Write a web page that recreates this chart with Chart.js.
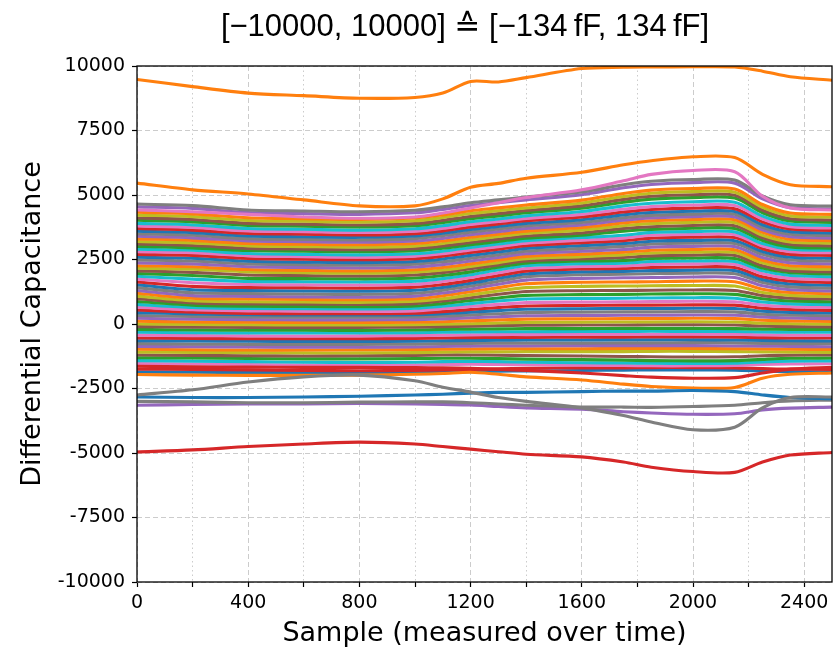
<!DOCTYPE html>
<html>
<head>
<meta charset="utf-8">
<script src="https://cdn.jsdelivr.net/npm/chart.js"></script>
<style>
    html, body {margin: 0; padding: 0; background: #fff;}
    #wrap {width: 839px; height: 650px;}
</style>
</head>
<body>
<div id="wrap"><canvas id="myChart" width="839" height="650"></canvas></div>
<script>
const samples = [0, 200, 400, 600, 800, 1000, 1100, 1200, 1300, 1400, 1600, 1750, 1850, 2000, 2150, 2250, 2350, 2500];
const xTicks = [0, 200, 400, 600, 800, 1000, 1200, 1400, 1600, 1800, 2000, 2200, 2400];
const yTicks = [-10000, -7500, -5000, -2500, 0, 2500, 5000, 7500, 10000];

// channels that stand apart from the bundle
const topOrange = [9480, 9200, 8950, 8850, 8750, 8780, 8950, 9400, 9380, 9550, 9900, 9950, 9960, 9970, 9960, 9800, 9580, 9450];
const secondOrange = [5460, 5200, 5040, 4810, 4580, 4580, 4850, 5300, 5450, 5650, 5880, 6170, 6330, 6480, 6450, 5800, 5400, 5320];
const pinkPeak = [4420, 4350, 4250, 4150, 4100, 4150, 4300, 4500, 4700, 4900, 5200, 5550, 5800, 5950, 5900, 4950, 4500, 4420];
const bottomRed = [-4960, -4880, -4750, -4650, -4580, -4650, -4750, -4850, -4950, -5050, -5150, -5350, -5550, -5720, -5750, -5350, -5080, -4980];
const driftGray = [-2750, -2550, -2250, -2050, -1980, -2200, -2450, -2640, -2850, -3000, -3250, -3550, -3800, -4100, -4000, -3250, -2850, -2830];
const flatGray = [-3000, -3020, -3050, -3050, -3030, -3020, -3020, -3050, -3100, -3150, -3220, -3220, -3230, -3200, -3150, -3050, -2980, -2950];
const lowBlue = [-2830, -2850, -2850, -2830, -2800, -2750, -2720, -2680, -2650, -2650, -2620, -2600, -2600, -2580, -2620, -2750, -2850, -2900];
const lowPurple = [-3150, -3120, -3100, -3100, -3080, -3100, -3120, -3140, -3200, -3250, -3300, -3400, -3450, -3500, -3480, -3330, -3260, -3220];
const redDip = [-1640, -1660, -1670, -1680, -1680, -1690, -1700, -1720, -1760, -1800, -1900, -2000, -2060, -2100, -2080, -1900, -1750, -1680];
const orangeDip = [-1960, -1980, -1990, -1990, -1980, -1950, -1920, -1870, -1950, -2050, -2170, -2330, -2420, -2480, -2460, -2100, -1950, -1900];

// the dense bundle, top to bottom
const upperBand = [
    [4650, 4590, 4420, 4380, 4350, 4410, 4540, 4700, 4810, 4920, 5120, 5400, 5530, 5600, 5580, 4960, 4620, 4570],
    [4540, 4480, 4320, 4280, 4250, 4310, 4440, 4590, 4700, 4810, 5010, 5280, 5410, 5480, 5460, 4850, 4510, 4460],
    [4330, 4270, 4120, 4080, 4050, 4110, 4230, 4390, 4500, 4610, 4800, 5060, 5190, 5250, 5230, 4630, 4300, 4250],
    [4220, 4160, 4010, 3980, 3950, 4000, 4130, 4280, 4390, 4500, 4690, 4940, 5070, 5130, 5110, 4520, 4190, 4140],
    [4110, 4050, 3900, 3870, 3840, 3890, 4020, 4170, 4280, 4400, 4580, 4830, 4950, 5010, 4990, 4410, 4080, 4030],
    [4020, 3960, 3820, 3790, 3760, 3810, 3930, 4080, 4190, 4310, 4490, 4720, 4840, 4900, 4880, 4310, 3990, 3940],
    [3900, 3840, 3700, 3670, 3640, 3690, 3810, 3960, 4070, 4190, 4360, 4580, 4680, 4740, 4720, 4180, 3870, 3820],
    [3800, 3740, 3610, 3580, 3550, 3600, 3710, 3860, 3970, 4090, 4250, 4450, 4550, 4610, 4590, 4070, 3770, 3720],
    [3700, 3640, 3510, 3480, 3450, 3500, 3610, 3760, 3880, 4000, 4150, 4340, 4440, 4490, 4470, 3960, 3680, 3630],
    [3600, 3540, 3410, 3380, 3360, 3410, 3520, 3660, 3780, 3900, 4040, 4230, 4320, 4370, 4360, 3850, 3580, 3530],
    [3500, 3440, 3310, 3280, 3260, 3310, 3420, 3560, 3680, 3800, 3940, 4120, 4210, 4260, 4250, 3750, 3480, 3430],
    [3400, 3340, 3220, 3190, 3170, 3220, 3320, 3460, 3580, 3700, 3840, 4020, 4110, 4160, 4150, 3650, 3380, 3330],
    [3300, 3240, 3120, 3090, 3070, 3120, 3220, 3360, 3480, 3600, 3740, 3920, 4000, 4050, 4040, 3550, 3280, 3230],
    [3200, 3140, 3030, 3000, 2980, 3020, 3120, 3260, 3390, 3510, 3640, 3810, 3890, 3940, 3930, 3440, 3180, 3130],
    [3100, 3040, 2930, 2900, 2880, 2920, 3020, 3160, 3290, 3410, 3530, 3700, 3770, 3820, 3810, 3340, 3080, 3030],
    [3010, 2950, 2850, 2820, 2800, 2840, 2940, 3070, 3200, 3330, 3440, 3600, 3660, 3710, 3700, 3240, 2990, 2940]
];
const middleBand = [
    [2900, 2860, 2730, 2700, 2680, 2720, 2820, 2970, 3100, 3230, 3350, 3440, 3550, 3580, 3570, 3120, 2900, 2860],
    [2800, 2760, 2640, 2610, 2590, 2630, 2720, 2870, 3000, 3130, 3250, 3330, 3440, 3470, 3460, 3020, 2800, 2760],
    [2700, 2660, 2540, 2510, 2490, 2530, 2630, 2770, 2900, 3030, 3150, 3230, 3330, 3360, 3350, 2920, 2700, 2660],
    [2590, 2550, 2430, 2400, 2380, 2420, 2520, 2660, 2790, 2930, 3040, 3120, 3210, 3240, 3230, 2810, 2590, 2550],
    [2480, 2440, 2330, 2300, 2280, 2320, 2410, 2550, 2680, 2820, 2930, 3010, 3100, 3130, 3120, 2700, 2480, 2440],
    [2370, 2330, 2220, 2190, 2170, 2210, 2300, 2440, 2580, 2720, 2820, 2890, 2980, 3010, 3000, 2580, 2370, 2330],
    [2260, 2220, 2110, 2080, 2060, 2100, 2190, 2330, 2480, 2620, 2710, 2780, 2860, 2890, 2880, 2470, 2260, 2220],
    [2160, 2120, 2020, 1990, 1970, 2010, 2090, 2230, 2380, 2530, 2610, 2680, 2750, 2780, 2770, 2370, 2160, 2120],
    [2060, 2000, 1900, 1880, 1860, 1900, 1990, 2140, 2290, 2440, 2520, 2580, 2640, 2670, 2660, 2260, 2060, 2020],
    [1960, 1880, 1770, 1760, 1750, 1780, 1880, 2020, 2200, 2360, 2440, 2460, 2540, 2560, 2540, 2170, 1990, 1940],
    [1850, 1740, 1650, 1640, 1630, 1660, 1760, 1910, 2100, 2260, 2340, 2360, 2420, 2440, 2420, 2060, 1880, 1830],
    [1740, 1600, 1530, 1520, 1510, 1540, 1650, 1800, 1990, 2150, 2230, 2250, 2310, 2330, 2310, 1950, 1770, 1720],
    [1630, 1460, 1410, 1400, 1390, 1430, 1530, 1690, 1880, 2050, 2130, 2150, 2190, 2210, 2190, 1830, 1660, 1610],
    [1520, 1330, 1300, 1280, 1270, 1310, 1420, 1580, 1770, 1940, 2020, 2040, 2070, 2090, 2070, 1720, 1550, 1500],
    [1410, 1210, 1180, 1160, 1150, 1190, 1310, 1470, 1660, 1830, 1910, 1930, 1950, 1970, 1950, 1610, 1440, 1390],
    [1300, 1100, 1070, 1050, 1040, 1080, 1200, 1360, 1540, 1700, 1770, 1790, 1800, 1820, 1800, 1480, 1330, 1280],
    [1190, 1000, 970, 950, 940, 980, 1090, 1250, 1410, 1560, 1620, 1630, 1640, 1660, 1640, 1350, 1220, 1170],
    [1080, 900, 860, 850, 840, 880, 980, 1130, 1280, 1410, 1460, 1470, 1480, 1490, 1470, 1220, 1110, 1060],
    [980, 820, 780, 770, 760, 790, 890, 1020, 1150, 1260, 1290, 1300, 1310, 1320, 1300, 1100, 1000, 970],
    [870, 730, 690, 680, 670, 700, 790, 910, 1010, 1110, 1140, 1150, 1160, 1170, 1150, 980, 890, 860],
    [760, 640, 600, 590, 580, 610, 690, 790, 890, 970, 990, 1000, 1010, 1020, 1000, 850, 780, 750],
    [650, 550, 510, 500, 490, 510, 590, 680, 760, 830, 850, 860, 870, 880, 860, 730, 670, 640],
    [540, 460, 410, 400, 400, 420, 480, 560, 640, 700, 720, 730, 730, 740, 730, 610, 560, 530]
];
const lowerBand = [
    [440, 390, 360, 350, 350, 360, 400, 460, 520, 570, 590, 600, 600, 610, 600, 500, 450, 430],
    [330, 290, 270, 260, 260, 270, 300, 350, 400, 440, 460, 470, 470, 480, 470, 380, 340, 320],
    [220, 190, 170, 160, 160, 170, 200, 240, 280, 320, 330, 340, 340, 350, 340, 270, 230, 210],
    [110, 80, 70, 60, 60, 70, 90, 120, 160, 190, 200, 210, 210, 220, 210, 150, 120, 100],
    [0, -20, -30, -40, -40, -30, -10, 10, 40, 60, 70, 80, 80, 90, 80, 30, 10, -10],
    [-100, -120, -130, -140, -130, -120, -100, -90, -60, -50, -40, -40, -30, -30, -40, -80, -100, -110],
    [-210, -230, -240, -240, -250, -230, -210, -200, -190, -180, -180, -170, -170, -170, -180, -200, -210, -210],
    [-320, -340, -350, -350, -350, -340, -320, -310, -300, -300, -290, -290, -280, -290, -290, -310, -320, -320],
    [-430, -450, -460, -470, -460, -450, -430, -420, -410, -410, -400, -400, -400, -400, -400, -420, -430, -440],
    [-540, -560, -570, -570, -570, -560, -540, -530, -520, -520, -510, -510, -500, -500, -510, -530, -540, -540],
    [-650, -660, -670, -680, -680, -670, -650, -640, -630, -620, -620, -610, -610, -610, -620, -640, -650, -660],
    [-760, -780, -790, -790, -790, -780, -760, -750, -740, -740, -740, -730, -730, -720, -730, -750, -760, -760],
    [-870, -880, -890, -900, -900, -890, -870, -860, -850, -850, -840, -840, -840, -840, -850, -860, -870, -880],
    [-980, -1000, -1010, -1010, -1000, -990, -980, -970, -960, -960, -960, -950, -950, -950, -960, -970, -980, -990],
    [-1090, -1100, -1110, -1120, -1120, -1110, -1090, -1080, -1080, -1070, -1070, -1070, -1060, -1060, -1070, -1080, -1090, -1100],
    [-1200, -1220, -1230, -1240, -1230, -1220, -1200, -1200, -1210, -1220, -1240, -1260, -1270, -1280, -1270, -1230, -1210, -1200],
    [-1310, -1320, -1340, -1350, -1350, -1340, -1330, -1330, -1340, -1360, -1380, -1400, -1420, -1430, -1420, -1370, -1330, -1320],
    [-1420, -1440, -1460, -1480, -1490, -1480, -1460, -1450, -1460, -1480, -1500, -1510, -1520, -1530, -1520, -1470, -1440, -1430],
    [-1530, -1550, -1570, -1590, -1600, -1590, -1570, -1560, -1570, -1580, -1600, -1610, -1620, -1620, -1610, -1570, -1550, -1540],
    [-1750, -1760, -1780, -1800, -1810, -1800, -1780, -1760, -1740, -1720, -1700, -1700, -1690, -1690, -1700, -1730, -1750, -1760],
    [-1860, -1870, -1880, -1890, -1900, -1890, -1870, -1850, -1830, -1820, -1800, -1790, -1780, -1780, -1790, -1820, -1850, -1860]
];

const palette = ['#1f77b4', '#ff7f0e', '#2ca02c', '#d62728', '#9467bd', '#8c564b', '#e377c2', '#7f7f7f', '#bcbd22', '#17becf'];
const font = 'DejaVu Sans';

function series(vals, color) {
    return {
        data: vals.map((v, i) => ({x: samples[i], y: v})),
        borderColor: color,
        backgroundColor: color,
        borderWidth: 3.1,
        pointRadius: 0,
        tension: 0.3,
        fill: false
    };
}

const datasets = [
    series(topOrange, palette[1]),
    series(secondOrange, palette[1]),
    series(pinkPeak, palette[6]),
    series(bottomRed, palette[3]),
    series(driftGray, palette[7]),
    series(lowBlue, palette[0]),
    series(flatGray, palette[7]),
    series(lowPurple, palette[4]),
    series(redDip, palette[3]),
    series(orangeDip, palette[1])
];
[...upperBand, ...middleBand, ...lowerBand].forEach(function (vals, i) {
    datasets.push(series(vals, palette[(i * 7 + 7) % 10]));
});

const frame = {
    id: 'frame',
    afterDraw(chart) {
        const c = chart.ctx, a = chart.chartArea;
        c.save();
        c.strokeStyle = '#000';
        c.lineWidth = 1.3;
        c.strokeRect(a.left, a.top, a.right - a.left, a.bottom - a.top);
        c.fillStyle = '#000';
        c.textAlign = 'center';
        c.textBaseline = 'middle';
        c.font = '31px "Liberation Sans", "DejaVu Sans"';
        c.fillText('[\u221210000, 10000] \u2259 [\u2212134\u2009fF, 134\u2009fF]', 465, 27);
        c.restore();
    }
};

const ctx = document.getElementById('myChart');
new Chart(ctx, {
    type: 'line',
    plugins: [frame],
    data: {datasets: datasets},
    options: {
        responsive: false,
        animation: false,
        layout: {padding: {top: 66, right: 7, bottom: 0, left: 0}},
        plugins: {legend: {display: false}, tooltip: {enabled: false}, title: {display: false}},
        scales: {
            x: {
                type: 'linear', min: 0, max: 2500,
                afterBuildTicks: s => { s.ticks = xTicks.map(v => ({value: v})); },
                afterFit: s => { s.height = 68; },
                ticks: {
                    autoSkip: false, maxRotation: 0, padding: 5, color: '#000',
                    font: {family: font, size: 19},
                    callback: v => v % 400 === 0 ? String(v) : ''
                },
                grid: {color: '#cccccc', lineWidth: 1, tickLength: 5, tickColor: '#000', tickWidth: 1.2},
                border: {display: false, dash: c => (c.tick && c.tick.value % 400 !== 0) ? [1.5, 3] : [5, 3]},
                title: {display: true, text: 'Sample (measured over time)', color: '#000', font: {family: font, size: 27}, padding: {top: 0, bottom: 0}}
            },
            y: {
                type: 'linear', min: -10000, max: 10000,
                afterBuildTicks: s => { s.ticks = yTicks.map(v => ({value: v})); },
                afterFit: s => { s.width = 137; },
                ticks: {padding: 7, color: '#000', font: {family: font, size: 19}, callback: v => String(v)},
                grid: {color: '#cccccc', lineWidth: 1, tickLength: 5, tickColor: '#000', tickWidth: 1.2},
                border: {display: false, dash: [5, 3]},
                title: {display: true, text: 'Differential Capacitance', color: '#000', font: {family: font, size: 27}, padding: {top: 17, bottom: 0}}
            }
        }
    }
});
</script>
</body>
</html>
